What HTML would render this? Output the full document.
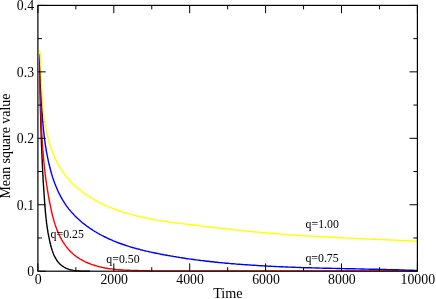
<!DOCTYPE html>
<html><head><meta charset="utf-8"><title>Mean square value vs Time</title>
<style>
html,body{margin:0;padding:0;background:#fff;}
body{width:436px;height:299px;position:relative;overflow:hidden;font-family:"Liberation Serif",serif;}
svg{position:absolute;left:0;top:0;display:block;will-change:transform;}
</style></head><body>
<svg width="436" height="299" viewBox="0 0 436 299">
<defs><clipPath id="c"><rect x="37.9" y="5.4" width="379.5" height="267.3"/></clipPath></defs>
<g clip-path="url(#c)" fill="none" stroke-width="1.4" stroke-linejoin="round" stroke-linecap="butt">
<path d="M39.7,60.0L39.7,61.5L39.7,63.0L39.7,64.5L39.8,66.0L39.8,67.5L39.8,69.0L39.8,70.5L39.8,72.0L39.8,73.5L39.9,74.9L39.9,76.4L39.9,77.9L39.9,79.4L39.9,80.9L40.0,82.4L40.0,83.9L40.0,85.4L40.0,86.9L40.1,88.4L40.1,89.9L40.1,91.4L40.1,92.9L40.2,94.4L40.2,95.8L40.2,97.3L40.2,98.8L40.3,100.3L40.3,101.8L40.3,103.3L40.4,104.8L40.4,106.3L40.4,107.8L40.5,109.3L40.5,110.8L40.5,112.2L40.6,113.7L40.6,115.2L40.7,116.7L40.7,118.2L40.7,119.7L40.8,121.2L40.8,122.7L40.9,124.2L40.9,125.7L40.9,127.2L41.0,128.6L41.0,130.1L41.1,131.6L41.1,133.1L41.2,134.6L41.2,136.1L41.3,137.6L41.3,139.1L41.4,140.6L41.4,142.1L41.5,143.6L41.5,145.1L41.6,146.6L41.7,148.1L41.7,149.6L41.8,151.0L41.8,152.5L41.9,154.0L42.0,155.5L42.0,157.0L42.1,158.5L42.2,160.0L42.2,161.5L42.3,163.0L42.4,164.5L42.4,166.0L42.5,167.5L42.6,169.0L42.6,170.5L42.7,172.0L42.8,173.5L42.9,175.0L43.0,176.5L43.0,178.0L43.1,179.5L43.2,180.9L43.3,182.4L43.4,183.9L43.5,185.4L43.6,186.9L43.7,188.4L43.8,189.9L43.9,191.4L44.0,192.9L44.1,194.3L44.2,195.8L44.3,197.3L44.4,198.8L44.5,200.3L44.6,201.8L44.7,203.2L44.8,204.7L44.9,206.2L45.1,207.7L45.2,209.1L45.3,210.6L45.4,212.1L45.6,213.6L45.7,215.0L45.9,216.5L46.0,218.0L46.2,219.5L46.4,220.9L46.5,222.4L46.7,223.9L46.9,225.3L47.1,226.8L47.3,228.3L47.6,229.8L47.8,231.2L48.0,232.7L48.3,234.2L48.6,235.7L48.9,237.1L49.2,238.6L49.5,240.1L49.8,241.6L50.2,243.0L50.5,244.5L50.9,246.0L51.3,247.5L51.8,249.0L52.2,250.4L52.7,251.9L53.2,253.3L53.8,254.7L54.4,256.1L55.1,257.4L55.8,258.7L56.6,260.0L57.4,261.2L58.3,262.3L59.3,263.4L60.3,264.4L61.4,265.3L62.6,266.2L63.8,267.0L65.0,267.7L66.3,268.4L67.7,268.9L69.1,269.4L70.5,269.8L72.0,270.1L73.5,270.4L75.0,270.6L76.5,270.8L78.1,270.9L79.6,271.0L81.2,271.1L82.7,271.1L84.2,271.1L85.7,271.1L87.2,271.1L88.6,271.1L90.0,271.1" stroke="#000"/>
<path d="M39.6,57.0L39.6,58.5L39.7,60.0L39.7,61.5L39.8,63.0L39.8,64.5L39.8,66.0L39.9,67.5L39.9,69.0L39.9,70.5L40.0,72.0L40.0,73.5L40.0,75.0L40.1,76.5L40.1,78.0L40.1,79.5L40.1,80.9L40.2,82.4L40.2,83.9L40.2,85.4L40.3,86.9L40.3,88.4L40.3,89.9L40.4,91.4L40.4,92.9L40.4,94.4L40.5,95.9L40.5,97.4L40.5,98.9L40.6,100.4L40.6,101.9L40.7,103.4L40.7,104.9L40.7,106.4L40.8,107.9L40.8,109.4L40.9,110.9L40.9,112.4L41.0,113.8L41.0,115.3L41.1,116.8L41.1,118.3L41.2,119.8L41.2,121.3L41.3,122.8L41.4,124.3L41.4,125.8L41.5,127.3L41.6,128.8L41.6,130.3L41.7,131.7L41.8,133.2L41.9,134.7L42.0,136.2L42.0,137.7L42.1,139.2L42.2,140.7L42.3,142.2L42.4,143.7L42.5,145.1L42.6,146.6L42.7,148.1L42.8,149.6L43.0,151.1L43.1,152.6L43.2,154.1L43.3,155.6L43.4,157.0L43.6,158.5L43.7,160.0L43.9,161.5L44.0,163.0L44.2,164.5L44.3,166.0L44.5,167.4L44.6,168.9L44.8,170.4L45.0,171.9L45.1,173.4L45.3,174.9L45.5,176.3L45.7,177.8L45.9,179.3L46.1,180.8L46.3,182.3L46.5,183.7L46.7,185.2L47.0,186.7L47.2,188.2L47.4,189.7L47.7,191.1L47.9,192.6L48.2,194.1L48.4,195.6L48.7,197.1L48.9,198.5L49.2,200.0L49.5,201.5L49.8,203.0L50.1,204.4L50.4,205.9L50.7,207.4L51.0,208.9L51.3,210.3L51.6,211.8L52.0,213.3L52.3,214.8L52.7,216.2L53.1,217.7L53.5,219.1L53.9,220.6L54.3,222.0L54.8,223.4L55.2,224.9L55.7,226.3L56.2,227.7L56.7,229.1L57.3,230.5L57.9,231.9L58.4,233.2L59.1,234.6L59.7,235.9L60.4,237.3L61.1,238.6L61.8,239.9L62.6,241.2L63.4,242.5L64.2,243.7L65.0,244.9L65.9,246.1L66.8,247.3L67.7,248.5L68.7,249.6L69.7,250.7L70.7,251.8L71.8,252.8L72.9,253.8L74.0,254.7L75.1,255.7L76.3,256.5L77.5,257.4L78.8,258.2L80.0,259.0L81.3,259.7L82.6,260.4L83.9,261.1L85.2,261.8L86.6,262.4L88.0,263.0L89.4,263.5L90.8,264.1L92.2,264.6L93.6,265.0L95.0,265.5L96.5,265.9L97.9,266.3L99.4,266.7L100.9,267.0L102.3,267.4L103.8,267.7L105.3,268.0L106.8,268.2L108.3,268.5L109.7,268.7L111.2,268.9L112.7,269.1L114.2,269.3L115.7,269.5L117.2,269.6L118.7,269.7L120.2,269.8L121.7,270.0L123.2,270.0L124.7,270.1L126.1,270.2L127.6,270.3L129.1,270.3L130.6,270.4L132.1,270.4L133.6,270.5L135.1,270.5L136.6,270.5L138.1,270.5L139.6,270.6L141.1,270.6L142.6,270.6L144.0,270.6L145.5,270.6L147.0,270.7L148.5,270.7L149.9,270.7" stroke="#f00"/>
<path d="M149,270.85L419.4,270.9" stroke="#f00" stroke-width="1.05"/>
<path d="M39.6,54.1L39.7,55.6L39.7,57.1L39.8,58.5L39.9,60.0L40.0,61.5L40.1,63.0L40.1,64.5L40.2,66.0L40.3,67.5L40.3,69.0L40.4,70.5L40.4,71.9L40.5,73.4L40.6,74.9L40.6,76.4L40.7,77.9L40.7,79.4L40.8,80.9L40.8,82.4L40.9,83.9L40.9,85.4L41.0,86.9L41.0,88.4L41.1,89.8L41.2,91.3L41.2,92.8L41.3,94.3L41.3,95.8L41.4,97.3L41.4,98.8L41.5,100.3L41.6,101.8L41.6,103.3L41.7,104.8L41.8,106.3L41.9,107.7L42.0,109.2L42.0,110.7L42.1,112.2L42.2,113.7L42.3,115.2L42.4,116.7L42.5,118.2L42.6,119.7L42.7,121.2L42.9,122.7L43.0,124.2L43.1,125.6L43.3,127.1L43.4,128.6L43.5,130.1L43.7,131.6L43.9,133.1L44.0,134.6L44.2,136.1L44.4,137.6L44.6,139.1L44.8,140.6L45.0,142.0L45.2,143.5L45.4,145.0L45.6,146.5L45.9,148.0L46.1,149.5L46.4,151.0L46.6,152.5L46.9,153.9L47.2,155.4L47.5,156.9L47.8,158.4L48.1,159.9L48.4,161.4L48.8,162.9L49.1,164.3L49.5,165.8L49.8,167.3L50.2,168.8L50.6,170.2L51.0,171.7L51.4,173.2L51.8,174.6L52.3,176.1L52.7,177.5L53.2,178.9L53.7,180.4L54.2,181.8L54.7,183.2L55.3,184.6L55.8,186.0L56.4,187.4L57.0,188.8L57.6,190.2L58.2,191.5L58.8,192.9L59.5,194.2L60.2,195.5L60.9,196.8L61.6,198.1L62.3,199.4L63.1,200.7L63.9,201.9L64.6,203.2L65.5,204.4L66.3,205.6L67.2,206.8L68.0,207.9L68.9,209.1L69.9,210.2L70.8,211.4L71.8,212.5L72.8,213.6L73.8,214.6L74.8,215.7L75.8,216.7L76.9,217.8L78.0,218.8L79.1,219.8L80.2,220.7L81.3,221.7L82.4,222.7L83.6,223.6L84.8,224.5L85.9,225.4L87.1,226.3L88.4,227.1L89.6,228.0L90.8,228.8L92.1,229.7L93.3,230.5L94.6,231.3L95.9,232.0L97.2,232.8L98.5,233.5L99.8,234.3L101.1,235.0L102.4,235.7L103.8,236.4L105.1,237.0L106.5,237.7L107.8,238.3L109.2,239.0L110.6,239.6L112.0,240.2L113.3,240.8L114.7,241.3L116.1,241.9L117.5,242.5L118.9,243.0L120.3,243.5L121.7,244.0L123.2,244.5L124.6,245.0L126.0,245.5L127.4,245.9L128.9,246.4L130.3,246.8L131.7,247.3L133.2,247.7L134.6,248.1L136.1,248.5L137.5,248.9L139.0,249.3L140.4,249.7L141.9,250.0L143.3,250.4L144.8,250.7L146.3,251.1L147.7,251.4L149.2,251.8L150.7,252.1L152.1,252.4L153.6,252.7L155.1,253.0L156.6,253.3L158.0,253.6L159.5,253.9L161.0,254.2L162.4,254.5L163.9,254.8L165.4,255.0L166.9,255.3L168.3,255.6L169.8,255.8L171.3,256.1L172.8,256.3L174.2,256.6L175.7,256.8L177.2,257.1L178.7,257.3L180.2,257.6L181.6,257.8L183.1,258.0L184.6,258.2L186.1,258.5L187.5,258.7L189.0,258.9L190.5,259.1L192.0,259.3L193.5,259.5L194.9,259.7L196.4,259.9L197.9,260.1L199.4,260.3L200.9,260.5L202.3,260.6L203.8,260.8L205.3,261.0L206.8,261.2L208.3,261.3L209.7,261.5L211.2,261.7L212.7,261.8L214.2,262.0L215.7,262.2L217.2,262.3L218.6,262.5L220.1,262.6L221.6,262.7L223.1,262.9L224.6,263.0L226.1,263.2L227.6,263.3L229.0,263.4L230.5,263.6L232.0,263.7L233.5,263.8L235.0,263.9L236.5,264.1L238.0,264.2L239.5,264.3L240.9,264.4L242.4,264.5L243.9,264.6L245.4,264.7L246.9,264.8L248.4,264.9L249.9,265.0L251.4,265.1L252.9,265.2L254.4,265.3L255.9,265.4L257.4,265.5L258.8,265.6L260.3,265.7L261.8,265.8L263.3,265.9L264.8,266.0L266.3,266.0L267.8,266.1L269.3,266.2L270.8,266.3L272.3,266.4L273.8,266.4L275.3,266.5L276.8,266.6L278.3,266.6L279.8,266.7L281.3,266.8L282.8,266.8L284.3,266.9L285.8,267.0L287.3,267.0L288.8,267.1L290.3,267.1L291.8,267.2L293.2,267.2L294.7,267.3L296.2,267.4L297.7,267.4L299.2,267.5L300.7,267.5L302.2,267.6L303.7,267.6L305.2,267.7L306.7,267.7L308.2,267.7L309.7,267.8L311.2,267.8L312.7,267.9L314.2,267.9L315.7,268.0L317.2,268.0L318.7,268.0L320.2,268.1L321.7,268.1L323.2,268.2L324.7,268.2L326.2,268.2L327.7,268.3L329.2,268.3L330.7,268.3L332.2,268.4L333.7,268.4L335.2,268.4L336.7,268.5L338.2,268.5L339.7,268.5L341.2,268.6L342.7,268.6L344.2,268.6L345.7,268.7L347.2,268.7L348.7,268.7L350.2,268.8L351.7,268.8L353.2,268.8L354.7,268.8L356.2,268.9L357.7,268.9L359.2,268.9L360.7,269.0L362.2,269.0L363.7,269.0L365.2,269.1L366.7,269.1L368.2,269.1L369.7,269.2L371.2,269.2L372.7,269.2L374.2,269.3L375.7,269.3L377.1,269.3L378.6,269.4L380.1,269.4L381.6,269.4L383.1,269.5L384.6,269.5L386.1,269.5L387.6,269.6L389.1,269.6L390.6,269.6L392.1,269.7L393.6,269.7L395.1,269.8L396.6,269.8L398.1,269.8L399.6,269.9L401.1,269.9L402.5,270.0L404.0,270.0L405.5,270.1L407.0,270.1L408.5,270.2L410.0,270.2L411.5,270.3L413.0,270.3L414.5,270.4L416.0,270.4L417.4,270.5L418.9,270.5" stroke="#00f"/>
<path d="M39.7,49.8L39.8,51.3L40.0,52.7L40.1,54.2L40.2,55.6L40.3,57.1L40.4,58.6L40.5,60.0L40.6,61.5L40.7,63.0L40.7,64.5L40.8,65.9L40.9,67.4L41.0,68.9L41.0,70.4L41.1,71.9L41.2,73.4L41.2,74.9L41.3,76.4L41.4,77.9L41.4,79.4L41.5,80.9L41.5,82.4L41.6,83.9L41.7,85.4L41.7,86.9L41.8,88.4L41.9,89.9L42.0,91.4L42.1,92.9L42.1,94.4L42.2,95.9L42.3,97.4L42.4,98.9L42.5,100.4L42.6,101.9L42.7,103.4L42.9,104.9L43.0,106.4L43.1,107.9L43.3,109.4L43.4,110.9L43.6,112.4L43.8,113.9L43.9,115.4L44.1,116.9L44.3,118.4L44.5,119.9L44.8,121.4L45.0,122.9L45.2,124.4L45.5,125.9L45.7,127.3L46.0,128.8L46.3,130.3L46.6,131.8L46.9,133.2L47.3,134.7L47.6,136.2L48.0,137.6L48.4,139.1L48.8,140.5L49.2,142.0L49.6,143.4L50.1,144.9L50.5,146.3L51.0,147.8L51.5,149.2L52.0,150.6L52.5,152.0L53.1,153.4L53.7,154.8L54.2,156.2L54.9,157.6L55.5,158.9L56.1,160.3L56.8,161.6L57.5,163.0L58.2,164.3L58.9,165.6L59.6,166.9L60.4,168.2L61.2,169.4L62.0,170.7L62.8,171.9L63.7,173.1L64.6,174.3L65.5,175.5L66.4,176.6L67.3,177.8L68.3,178.9L69.3,180.0L70.3,181.1L71.3,182.2L72.3,183.2L73.4,184.3L74.4,185.3L75.5,186.3L76.6,187.3L77.8,188.2L78.9,189.2L80.1,190.1L81.3,191.0L82.4,191.9L83.6,192.8L84.9,193.7L86.1,194.6L87.3,195.4L88.6,196.2L89.8,197.0L91.1,197.8L92.4,198.6L93.7,199.3L95.0,200.1L96.3,200.8L97.7,201.5L99.0,202.2L100.3,202.9L101.7,203.6L103.0,204.2L104.4,204.9L105.8,205.5L107.1,206.1L108.5,206.7L109.9,207.3L111.3,207.8L112.7,208.4L114.1,208.9L115.5,209.5L116.9,210.0L118.3,210.5L119.7,211.0L121.1,211.4L122.5,211.9L124.0,212.4L125.4,212.8L126.8,213.2L128.3,213.7L129.7,214.1L131.1,214.5L132.6,214.9L134.0,215.2L135.5,215.6L136.9,216.0L138.4,216.3L139.9,216.7L141.3,217.0L142.8,217.3L144.2,217.6L145.7,217.9L147.2,218.2L148.7,218.5L150.1,218.8L151.6,219.1L153.1,219.4L154.6,219.6L156.1,219.9L157.5,220.1L159.0,220.4L160.5,220.6L162.0,220.9L163.5,221.1L165.0,221.3L166.5,221.5L168.0,221.8L169.5,222.0L170.9,222.2L172.4,222.4L173.9,222.6L175.4,222.8L176.9,223.0L178.4,223.2L179.9,223.4L181.4,223.6L182.9,223.7L184.4,223.9L185.9,224.1L187.4,224.3L188.9,224.5L190.4,224.7L191.9,224.8L193.4,225.0L194.9,225.2L196.4,225.4L197.9,225.6L199.4,225.8L200.8,225.9L202.3,226.1L203.8,226.3L205.3,226.5L206.8,226.6L208.3,226.8L209.8,227.0L211.3,227.2L212.8,227.3L214.2,227.5L215.7,227.7L217.2,227.9L218.7,228.0L220.2,228.2L221.7,228.4L223.2,228.6L224.6,228.7L226.1,228.9L227.6,229.1L229.1,229.2L230.6,229.4L232.1,229.6L233.6,229.7L235.0,229.9L236.5,230.0L238.0,230.2L239.5,230.4L241.0,230.5L242.5,230.7L244.0,230.8L245.4,231.0L246.9,231.1L248.4,231.3L249.9,231.4L251.4,231.6L252.9,231.7L254.4,231.9L255.8,232.0L257.3,232.1L258.8,232.3L260.3,232.4L261.8,232.6L263.3,232.7L264.8,232.8L266.3,233.0L267.8,233.1L269.2,233.2L270.7,233.3L272.2,233.5L273.7,233.6L275.2,233.7L276.7,233.8L278.2,233.9L279.7,234.1L281.2,234.2L282.7,234.3L284.2,234.4L285.7,234.5L287.2,234.6L288.7,234.7L290.2,234.8L291.7,234.9L293.1,235.0L294.6,235.1L296.1,235.2L297.6,235.3L299.1,235.4L300.6,235.5L302.1,235.6L303.6,235.7L305.1,235.8L306.6,235.9L308.1,236.0L309.6,236.1L311.1,236.2L312.6,236.3L314.1,236.4L315.6,236.4L317.1,236.5L318.6,236.6L320.1,236.7L321.6,236.8L323.1,236.9L324.6,236.9L326.1,237.0L327.6,237.1L329.1,237.2L330.6,237.2L332.1,237.3L333.6,237.4L335.1,237.5L336.6,237.5L338.1,237.6L339.6,237.7L341.1,237.8L342.6,237.8L344.1,237.9L345.6,238.0L347.1,238.0L348.6,238.1L350.1,238.2L351.6,238.3L353.1,238.3L354.6,238.4L356.1,238.5L357.6,238.5L359.1,238.6L360.6,238.7L362.1,238.7L363.6,238.8L365.1,238.9L366.6,238.9L368.1,239.0L369.6,239.1L371.1,239.1L372.6,239.2L374.1,239.3L375.6,239.3L377.1,239.4L378.6,239.4L380.1,239.5L381.6,239.6L383.1,239.6L384.6,239.7L386.1,239.8L387.6,239.8L389.1,239.9L390.6,240.0L392.1,240.0L393.6,240.1L395.1,240.2L396.6,240.2L398.0,240.3L399.5,240.4L401.0,240.4L402.5,240.5L404.0,240.6L405.5,240.6L407.0,240.7L408.5,240.8L410.0,240.9L411.5,240.9L413.0,241.0L414.5,241.1L416.0,241.1L417.4,241.2L418.9,241.3" stroke="#ff0"/>
</g>
<g stroke="#000" stroke-width="1.2" fill="none">
<path d="M37.90,271.2v-7.8M37.90,5.4v7.8M75.85,271.2v-4M75.85,5.4v4M113.80,271.2v-7.8M113.80,5.4v7.8M151.75,271.2v-4M151.75,5.4v4M189.70,271.2v-7.8M189.70,5.4v7.8M227.65,271.2v-4M227.65,5.4v4M265.60,271.2v-7.8M265.60,5.4v7.8M303.55,271.2v-4M303.55,5.4v4M341.50,271.2v-7.8M341.50,5.4v7.8M379.45,271.2v-4M379.45,5.4v4M417.40,271.2v-7.8M417.40,5.4v7.8M37.9,271.20h7.8M417.4,271.20h-7.8M37.9,237.97h4M417.4,237.97h-4M37.9,204.75h7.8M417.4,204.75h-7.8M37.9,171.52h4M417.4,171.52h-4M37.9,138.30h7.8M417.4,138.30h-7.8M37.9,105.07h4M417.4,105.07h-4M37.9,71.85h7.8M417.4,71.85h-7.8M37.9,38.62h4M417.4,38.62h-4M37.9,5.40h7.8M417.4,5.40h-7.8" stroke-width="1"/>
<rect x="37.9" y="5.4" width="379.5" height="265.8"/>
<path d="M128,271.09999999999997H417.4" stroke="#f00" stroke-opacity="0.12" stroke-width="1.2"/>
</g>
<g font-family="Liberation Serif, serif" fill="#000" font-size="13.8">
<text x="38.30" y="284.2" text-anchor="middle">0</text>
<text x="114.20" y="284.2" text-anchor="middle">2000</text>
<text x="190.10" y="284.2" text-anchor="middle">4000</text>
<text x="266.00" y="284.2" text-anchor="middle">6000</text>
<text x="341.90" y="284.2" text-anchor="middle">8000</text>
<text x="417.80" y="284.2" text-anchor="middle">10000</text>
<text x="34.1" y="276.10" text-anchor="end">0</text>
<text x="34.1" y="209.65" text-anchor="end">0.1</text>
<text x="34.1" y="143.20" text-anchor="end">0.2</text>
<text x="34.1" y="76.75" text-anchor="end">0.3</text>
<text x="34.1" y="10.30" text-anchor="end">0.4</text>
<text x="227.9" y="298.0" text-anchor="middle" font-size="14.2">Time</text>
<text transform="translate(10,146.1) rotate(-90)" text-anchor="middle" font-size="13.9">Mean square value</text>
</g>
<g font-family="Liberation Serif, serif" fill="#000" font-size="11.85">
<text x="50.6" y="238">q=0.25</text>
<text x="106.3" y="263.2">q=0.50</text>
<text x="305.4" y="261.7">q=0.75</text>
<text x="305.6" y="228.4">q=1.00</text>
</g>
</svg>
</body></html>
